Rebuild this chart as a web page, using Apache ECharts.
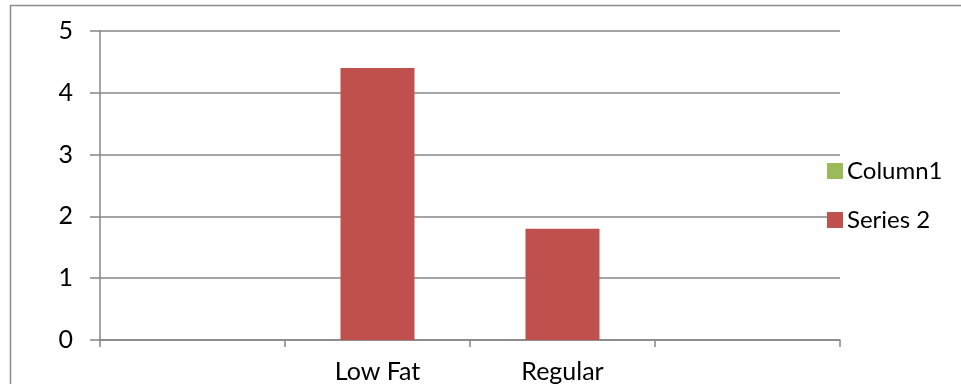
<!DOCTYPE html>
<html>
<head>
<meta charset="utf-8">
<script src="https://cdn.jsdelivr.net/npm/echarts@6/dist/echarts.min.js"></script>
<style>
  html, body { margin: 0; padding: 0; background: #fff; }
  #chart { width: 961px; height: 384px; }
</style>
</head>
<body>
<div id="chart"></div>
<script>
// Category slots along the x axis (outer two are empty)
const categories = ['', 'Low Fat', 'Regular', ''];
// Series values
const column1 = ['-', '-', '-', '-'];
const series2 = ['-', 4.4, 1.8, '-'];
// Value axis ticks
const yTicks = [0, 1, 2, 3, 4, 5];

const FONT = 'Lato';
const GRID_GRAY = '#868686';

const chart = echarts.init(document.getElementById('chart'), null, { renderer: 'canvas' });
chart.setOption({
  animation: false,
  backgroundColor: '#fff',
  textStyle: { fontFamily: FONT },
  graphic: [{
    type: 'rect',
    shape: { x: 10.5, y: 5.5, width: 1000, height: 500 },
    style: { fill: 'none', stroke: '#8c8c8c', lineWidth: 1.5 },
    silent: true
  }],
  grid: { left: 100, right: 121, top: 31, bottom: 44 },
  legend: {
    orient: 'vertical',
    left: 822,
    top: 154,
    itemWidth: 16,
    itemHeight: 16,
    itemGap: 25,
    icon: 'rect',
    textStyle: { fontFamily: FONT, fontSize: 24, color: '#000', padding: [0, 0, 0, -1] },
    data: ['Column1', 'Series 2']
  },
  xAxis: {
    type: 'category',
    data: categories,
    axisLine: { lineStyle: { color: GRID_GRAY, width: 1.5 } },
    axisTick: { show: true, length: 7, interval: 0, lineStyle: { color: GRID_GRAY, width: 1.5 } },
    axisLabel: { interval: 0, color: '#000', fontSize: 25, fontFamily: FONT, margin: 19 }
  },
  yAxis: {
    type: 'value',
    min: yTicks[0],
    max: yTicks[yTicks.length - 1],
    interval: 1,
    axisLine: { show: true, lineStyle: { color: GRID_GRAY, width: 1.5 } },
    axisTick: { show: true, length: 10, lineStyle: { color: GRID_GRAY, width: 1.5 } },
    axisLabel: { color: '#000', fontSize: 25, fontFamily: FONT, margin: 27 },
    splitLine: { lineStyle: { color: GRID_GRAY, width: 1.5 } }
  },
  series: [
    {
      name: 'Column1',
      type: 'bar',
      data: column1,
      barWidth: 74,
      barGap: '-100%',
      itemStyle: { color: '#9BBB59' }
    },
    {
      name: 'Series 2',
      type: 'bar',
      data: series2,
      barWidth: 74,
      barGap: '-100%',
      itemStyle: { color: '#C0504D' }
    }
  ]
});
</script>
</body>
</html>
